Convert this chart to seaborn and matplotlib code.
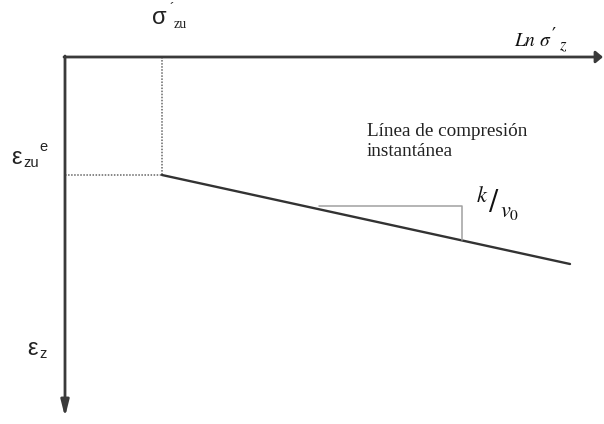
import matplotlib
matplotlib.use("Agg")
import matplotlib.pyplot as plt
import seaborn as sns
import pandas as pd

sns.set_theme(style="white")
plt.rcParams["font.family"] = ["Liberation Sans", "DejaVu Sans"]
plt.rcParams["mathtext.fontset"] = "stix"

# Diagram geometry (drawing units: x to the right, z downward)
origin = (65, 57)
axis_x_end = 603
axis_z_end = 417
yield_point = (162, 175)          # (Ln sigma'_zu, eps_zu^e)
line_x = [162, 570]               # instantaneous compression line
line_z = [175, 264]
slope_x = [319, 462, 462]         # slope triangle k/v0
slope_z = [206, 206, 240]

df = pd.DataFrame({"x": line_x, "z": line_z})

fig = plt.figure(figsize=(6.04, 4.24), dpi=100)
ax = fig.add_axes([0, 0, 1, 1])

axis_col = "#3a3a3a"
# horizontal axis with arrow
ax.annotate("", xy=(axis_x_end, origin[1]), xytext=(origin[0] - 1, origin[1]),
            arrowprops=dict(arrowstyle="-|>,head_length=0.3,head_width=0.25",
                            color=axis_col, lw=2.0,
                            mutation_scale=14, shrinkA=0, shrinkB=0))
# vertical axis with arrow
ax.annotate("", xy=(origin[0], axis_z_end), xytext=(origin[0], origin[1] - 1),
            arrowprops=dict(arrowstyle="-|>,head_length=0.8,head_width=0.2",
                            color=axis_col, lw=2.0,
                            mutation_scale=12, shrinkA=0, shrinkB=0))

# dotted guides to the yield point
ax.plot([yield_point[0], yield_point[0]], [origin[1], yield_point[1]],
        ls=(0, (1, 1)), color="#666666", lw=1.1)
ax.plot([origin[0], yield_point[0]], [yield_point[1], yield_point[1]],
        ls=(0, (1, 1)), color="#666666", lw=1.1)

# compression line
sns.lineplot(data=df, x="x", y="z", ax=ax, color="#333333", lw=1.7,
             estimator=None, sort=False)

# slope triangle
ax.plot(slope_x, slope_z, color="#a0a0a0", lw=1.1)

ax.set_xlim(0, 604)
ax.set_ylim(424, 0)
ax.axis("off")

ink = "#222222"
# sigma'_zu
ax.text(152, 18, "σ", fontsize=17, ha="left", va="center", color=ink)
ax.text(169, 9, "´", fontsize=10, ha="left", va="center", color=ink)
ax.text(174, 25, "zu", fontsize=10, ha="left", va="center", color=ink,
        family=["Liberation Serif"])

# eps_zu^e
ax.text(11, 158, "ε", fontsize=17, ha="left", va="center", color=ink)
ax.text(23, 163, "zu", fontsize=10.5, ha="left", va="center", color=ink)
ax.text(39, 147, "e", fontsize=10.5, ha="left", va="center", color=ink)

# eps_z
ax.text(27, 349, "ε", fontsize=17, ha="left", va="center", color=ink)
ax.text(39, 354, "z", fontsize=10.5, ha="left", va="center", color=ink)

# Ln sigma'_z
ax.text(514, 42, r"$Ln\ \sigma$", fontsize=14, ha="left", va="center",
        color="#111111")
ax.text(552, 36, "′", fontsize=13, ha="left", va="center", color="#111111",
        family=["DejaVu Serif"])
ax.text(559, 47, r"$z$", fontsize=12, ha="left", va="center", color="#111111")

ax.text(367, 132, "Línea de compresión", fontsize=13.8, ha="left",
        va="center", family=["Liberation Serif"], color=ink)
ax.text(367, 151, "instantánea", fontsize=13.8, ha="left",
        va="center", family=["Liberation Serif"], color=ink)

# k / v0
ax.text(476, 197, r"$k$", fontsize=16, ha="left", va="center", color="#111111")
ax.text(489, 203, "/", fontsize=20, ha="left", va="center", color="#111111",
        family=["DejaVu Serif"])
ax.text(500, 211, r"$v_0$", fontsize=16, ha="left", va="center",
        color="#111111")

fig.savefig("out.png", dpi=100)
